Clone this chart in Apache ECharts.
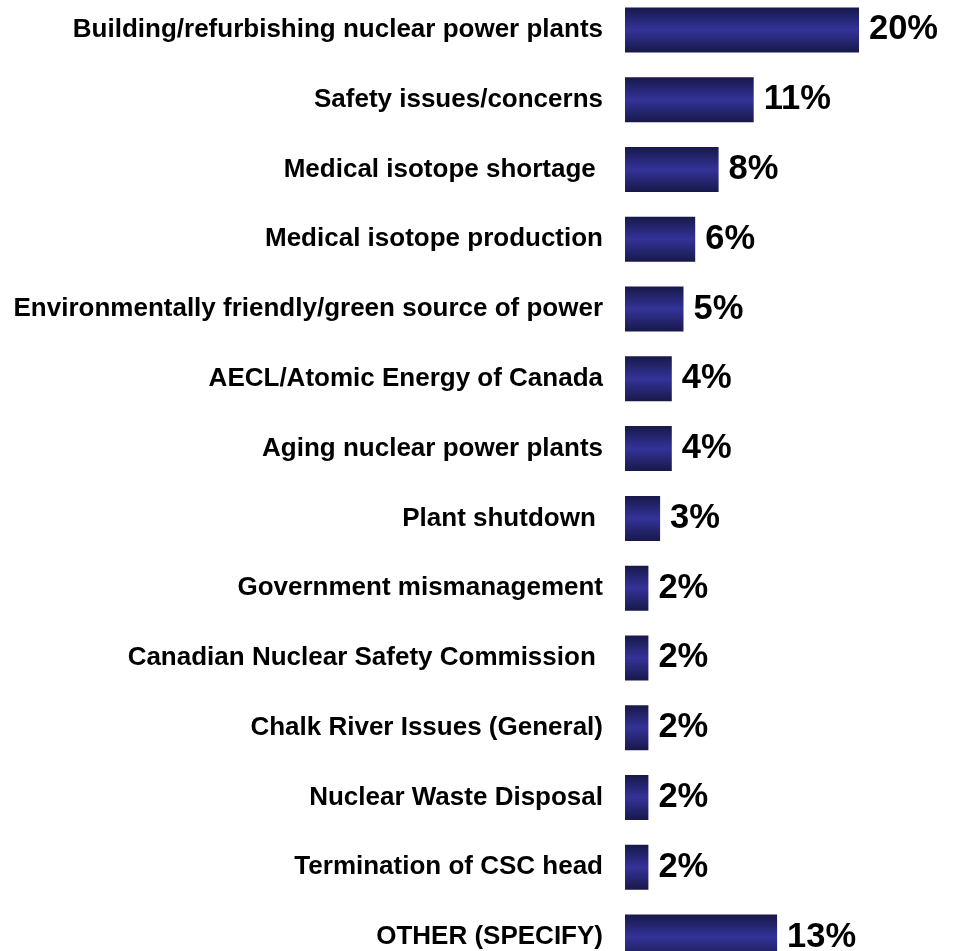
<!DOCTYPE html>
<html>
<head>
<meta charset="utf-8">
<script src="https://cdn.jsdelivr.net/npm/echarts@6/dist/echarts.min.js"></script>
<style>html,body{margin:0;padding:0;background:#fff;}#c{width:956px;height:951px;}</style>
</head>
<body>
<div id="c"></div>
<script>
var categories = [
  "Building/refurbishing nuclear power plants",
  "Safety issues/concerns",
  "Medical isotope shortage ",
  "Medical isotope production",
  "Environmentally friendly/green source of power",
  "AECL/Atomic Energy of Canada",
  "Aging nuclear power plants",
  "Plant shutdown ",
  "Government mismanagement",
  "Canadian Nuclear Safety Commission ",
  "Chalk River Issues (General)",
  "Nuclear Waste Disposal",
  "Termination of CSC head",
  "OTHER (SPECIFY)"
];
var values = [20, 11, 8, 6, 5, 4, 4, 3, 2, 2, 2, 2, 2, 13];

var chart = echarts.init(document.getElementById('c'), null, {renderer: 'canvas'});
var grad = new echarts.graphic.LinearGradient(0, 0, 0, 1, [
  {offset: 0, color: '#18184a'},
  {offset: 0.5, color: '#333399'},
  {offset: 1, color: '#18184a'}
]);
chart.setOption({
  animation: false,
  backgroundColor: '#ffffff',
  grid: {left: 625, width: 327.6, top: -5, height: 977, containLabel: false, outerBoundsMode: 'none'},
  xAxis: {
    type: 'value', min: 0, max: 28,
    show: false
  },
  yAxis: {
    type: 'category', data: categories, inverse: true,
    axisLine: {show: false}, axisTick: {show: false},
    axisLabel: {
      margin: 22,
      color: '#000',
      fontFamily: 'Liberation Sans, Arial, sans-serif',
      fontWeight: 'bold',
      fontSize: 26
    }
  },
  series: [{
    type: 'bar',
    data: values,
    barWidth: 45,
    itemStyle: {color: grad},
    label: {
      show: true, position: 'right', distance: 10,
      formatter: '{c}%',
      color: '#000',
      fontFamily: 'Liberation Sans, Arial, sans-serif',
      fontWeight: 'bold',
      fontSize: 34.5
    }
  }]
});
</script>
</body>
</html>
